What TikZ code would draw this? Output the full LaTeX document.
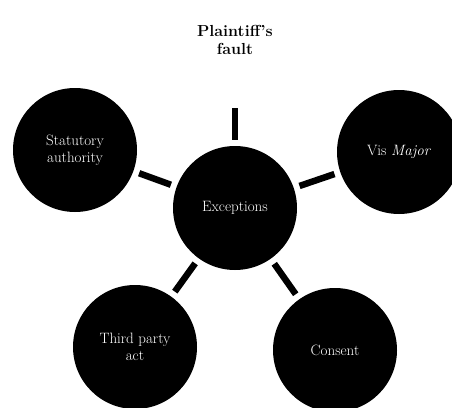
\documentclass[tikz,border=0pt]{standalone}
\usepackage{tikz}
\usetikzlibrary{positioning}
\tikzset{
    bubble/.style={circle, fill=black, text=white, minimum size=124pt, inner sep=0pt, align=center, font=\fontsize{15}{17}\selectfont},
    ghost/.style={bubble, fill=white, text=black, font=\fontsize{16}{18}\selectfont\bfseries},
    spoke/.style={line width=6.5pt, draw=black, shorten <=6pt, shorten >=6pt}
}
\begin{document}
\begin{tikzpicture}[x=1pt, y=-1pt]
    \useasboundingbox (0,0) rectangle (452,407);
    \node[bubble] (hub) at (235,208) {Exceptions};
    \node[ghost] (fault) at (235,40) {Plaintiff's\\fault};
    \node[bubble] (statute) at (75,150) {Statutory\\authority};
    \node[bubble] (vis) at (399,152) {Vis \textit{Major}};
    \node[bubble] (third) at (135,347) {Third party\\act};
    \node[bubble] (consent) at (335,350) {Consent};
    \foreach \n in {fault,statute,vis,third,consent} {
        \draw[spoke] (hub) -- (\n);
    }
\end{tikzpicture}
\end{document}
